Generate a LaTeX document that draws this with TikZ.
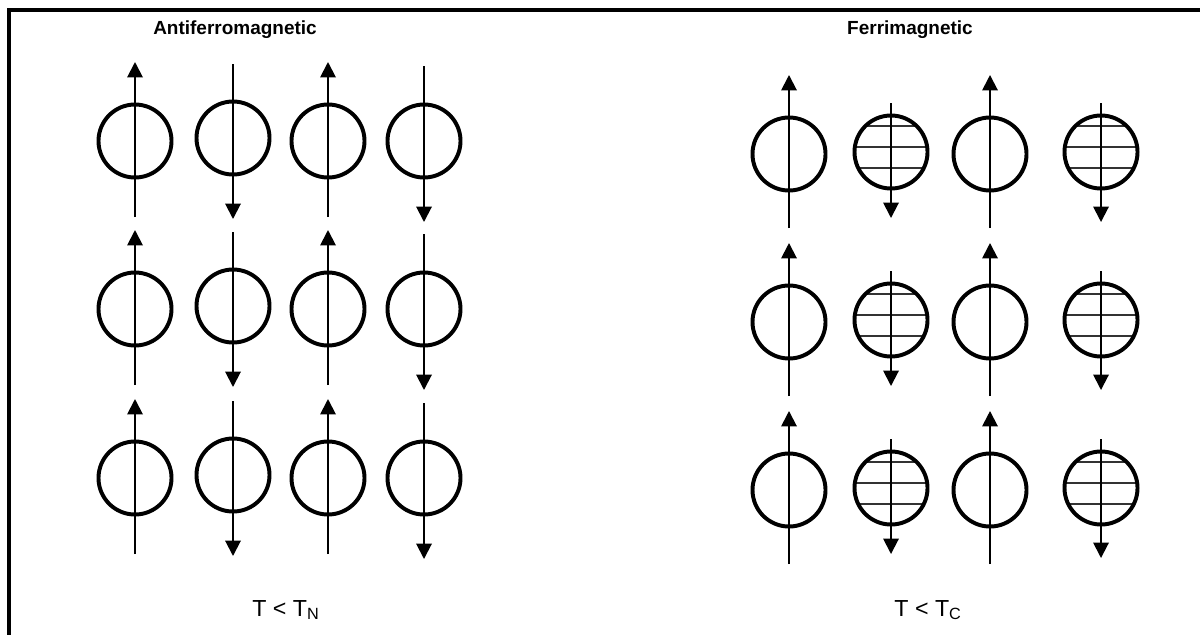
\documentclass[tikz,border=0pt]{standalone}
\usepackage{fontspec}
\setmainfont{Liberation Sans}
\usetikzlibrary{arrows.meta, calc}
\tikzset{
  spin/.style={circle, draw=black, line width=2.8pt, minimum size=1.825cm, inner sep=0pt},
  hatch/.style={line width=1.3pt, black!80},
  hatchspin/.style={spin, path picture={
      \foreach \dy in {-26,-5,16}
        \draw[hatch] ($(path picture bounding box.center)+(-45,\dy)$) -- ++(90,0);}},
  moment/.style={line width=1.4pt, -{Triangle[length=11pt, width=11pt]}},
  title/.style={font=\fontsize{13.5}{16}\selectfont\bfseries},
  temp/.style={font=\fontsize{16.5}{18}\selectfont}
}
\begin{document}
\begin{tikzpicture}[x=0.025cm, y=-0.025cm]
  \useasboundingbox (0,0) rectangle (1200,634);

  % --- Rahmen ---
  \draw[line width=2.8pt] (9,10) rectangle (1260,700);

  % --- Links: antiferromagnetisch ---
  \node (afm) [title] at (235,30) {Antiferromagnetic};
  \foreach \row/\y in {a/141, b/309, c/478} {
    \node (afm-\row1) [spin] at (135,\y) {};
    \node (afm-\row2) [spin] at (233,\y-3) {};
    \node (afm-\row3) [spin] at (328,\y) {};
    \node (afm-\row4) [spin] at (424,\y) {};
    \draw[moment] ($(afm-\row1.center)+(0,76)$) -- ++(0,-155);
    \draw[moment] ($(afm-\row2.center)+(0,-74)$) -- ++(0,155);
    \draw[moment] ($(afm-\row3.center)+(0,76)$) -- ++(0,-155);
    \draw[moment] ($(afm-\row4.center)+(0,-75)$) -- ++(0,156);
  }
  \node (tn) [temp] at (286,610) {T < T\textsubscript{N}};

  % --- Rechts: ferrimagnetisch ---
  \node (fim) [title] at (910,30) {Ferrimagnetic};
  \foreach \row/\y in {a/154, b/322, c/490} {
    \node (fim-\row1) [spin] at (789,\y) {};
    \node (fim-\row2) [hatchspin] at (891,\y-2) {};
    \node (fim-\row3) [spin] at (990,\y) {};
    \node (fim-\row4) [hatchspin] at (1101,\y-2) {};
    \draw[moment] ($(fim-\row1.center)+(0,74)$) -- ++(0,-153);
    \draw[moment] ($(fim-\row2.center)+(0,-49)$) -- ++(0,115);
    \draw[moment] ($(fim-\row3.center)+(0,74)$) -- ++(0,-153);
    \draw[moment] ($(fim-\row4.center)+(0,-49)$) -- ++(0,119);
  }
  \node (tc) [temp] at (928,610) {T < T\textsubscript{C}};
\end{tikzpicture}
\end{document}
